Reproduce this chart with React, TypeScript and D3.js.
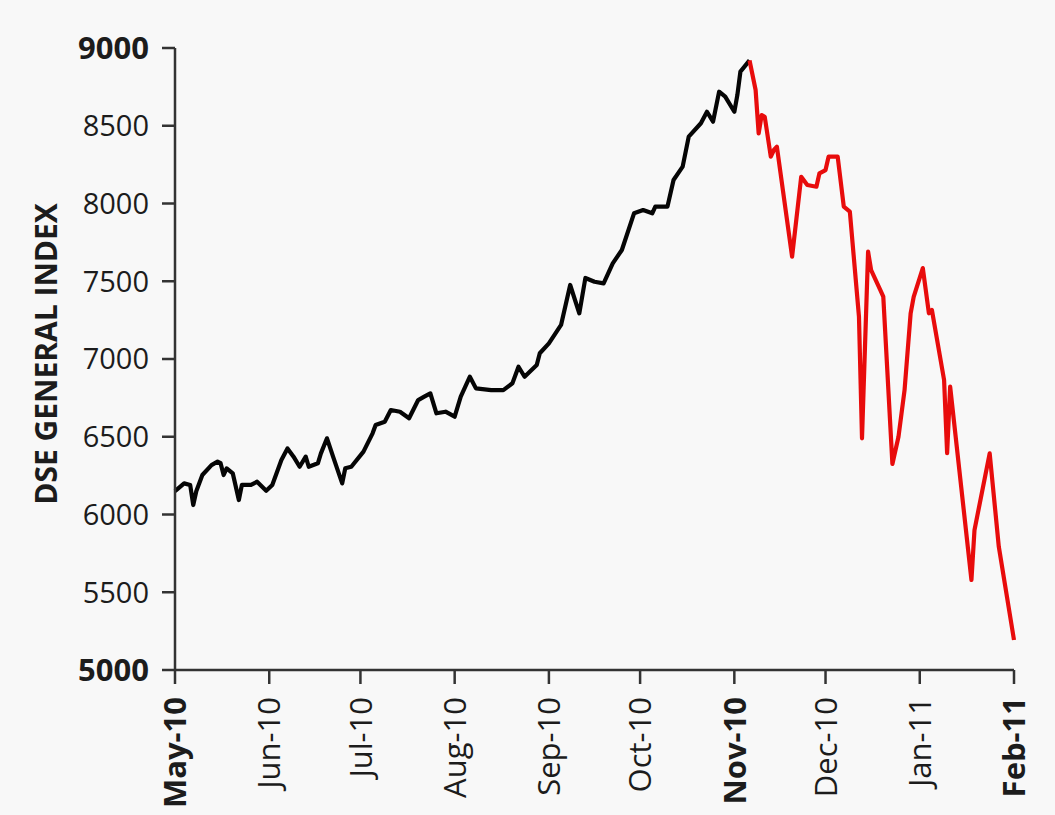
import React from "react";
import * as d3 from "d3";

const monthTicks = ["2010-05-01","2010-06-01","2010-07-01","2010-08-01","2010-09-01","2010-10-01","2010-11-01","2010-12-01","2011-01-01","2011-02-01"];
const monthLabels = ["May-10","Jun-10","Jul-10","Aug-10","Sep-10","Oct-10","Nov-10","Dec-10","Jan-11","Feb-11"];
const boldMonths = ["May-10","Nov-10","Feb-11"];
const yTicks = [5000,5500,6000,6500,7000,7500,8000,8500,9000];
const boldY = [5000,9000];

const riseDates = ["2010-05-01","2010-05-04","2010-05-06","2010-05-07","2010-05-08","2010-05-10","2010-05-13","2010-05-15","2010-05-16","2010-05-17","2010-05-18","2010-05-20","2010-05-22","2010-05-23","2010-05-26","2010-05-28","2010-05-31","2010-06-02","2010-06-05","2010-06-07","2010-06-09","2010-06-11","2010-06-13","2010-06-14","2010-06-17","2010-06-18","2010-06-20","2010-06-22","2010-06-25","2010-06-26","2010-06-28","2010-07-02","2010-07-05","2010-07-06","2010-07-09","2010-07-11","2010-07-14","2010-07-17","2010-07-20","2010-07-22","2010-07-24","2010-07-26","2010-07-29","2010-08-01","2010-08-03","2010-08-06","2010-08-08","2010-08-13","2010-08-17","2010-08-20","2010-08-22","2010-08-24","2010-08-28","2010-08-29","2010-09-01","2010-09-05","2010-09-08","2010-09-11","2010-09-13","2010-09-16","2010-09-19","2010-09-22","2010-09-25","2010-09-29","2010-10-02","2010-10-05","2010-10-06","2010-10-10","2010-10-12","2010-10-15","2010-10-17","2010-10-21","2010-10-23","2010-10-25","2010-10-27","2010-10-29","2010-11-01","2010-11-02","2010-11-03","2010-11-06"];
const riseValues = [6150,6200,6190,6061,6150,6254,6318,6340,6330,6254,6297,6265,6093,6190,6190,6211,6153,6190,6350,6425,6372,6307,6372,6307,6329,6393,6490,6372,6200,6297,6307,6404,6522,6575,6597,6672,6661,6619,6736,6758,6779,6651,6661,6629,6758,6886,6811,6800,6800,6844,6950,6886,6961,7037,7101,7219,7476,7294,7521,7497,7486,7615,7701,7937,7958,7937,7980,7980,8151,8237,8430,8516,8590,8526,8719,8687,8590,8698,8848,8920];

const fallDates = ["2010-11-06","2010-11-08","2010-11-09","2010-11-10","2010-11-11","2010-11-13","2010-11-14","2010-11-15","2010-11-20","2010-11-23","2010-11-25","2010-11-28","2010-11-29","2010-12-01","2010-12-02","2010-12-05","2010-12-07","2010-12-09","2010-12-12","2010-12-13","2010-12-15","2010-12-16","2010-12-19","2010-12-20","2010-12-23","2010-12-25","2010-12-27","2010-12-29","2010-12-30","2011-01-02","2011-01-04","2011-01-05","2011-01-09","2011-01-10","2011-01-11","2011-01-18","2011-01-19","2011-01-24","2011-01-27","2011-02-01"];
const fallValues = [8920,8730,8451,8569,8558,8301,8344,8365,7658,8172,8119,8108,8194,8215,8301,8301,7980,7948,7272,6490,7690,7572,7445,7401,6325,6500,6800,7294,7400,7585,7294,7315,6865,6395,6822,5579,5900,6393,5793,5193];

const W = 1055, H = 815;
const M = { left: 175, top: 48, right: 41, bottom: 145 };
const FONT = "'Open Sans', 'Noto Sans', sans-serif";
const TXT = "#1c1c1c";

export default function App() {
  const parse = d3.utcParse("%Y-%m-%d");
  const x = d3.scaleUtc()
    .domain([parse(monthTicks[0])!, parse(monthTicks[monthTicks.length - 1])!])
    .range([M.left, W - M.right]);
  const y = d3.scaleLinear().domain([5000, 9000]).range([H - M.bottom, M.top]);

  const rise = riseDates.map((d, i) => ({ d: parse(d)!, v: riseValues[i] }));
  const fall = fallDates.map((d, i) => ({ d: parse(d)!, v: fallValues[i] }));
  const line = d3.line<{ d: Date; v: number }>().x(p => x(p.d)).y(p => y(p.v));

  const x0 = M.left, y0 = H - M.bottom;

  return (
    <div style={{ position: "absolute", left: 0, top: 0 }}>
      <svg width={W} height={H} style={{ display: "block" }}>
        <rect x={0} y={0} width={W} height={H} fill="#f8f8f8" />
        <path d={line(rise) ?? ""} fill="none" stroke="#050505" strokeWidth={4.2} strokeLinejoin="round" />
        <path d={line(fall) ?? ""} fill="none" stroke="#e80c0c" strokeWidth={4.2} strokeLinejoin="round" />
        {/* y axis */}
        <line x1={x0} x2={x0} y1={y(9000)} y2={y0} stroke="#333" strokeWidth={2.5} />
        {yTicks.map(t => (
          <g key={t}>
            <line x1={x0 - 13} x2={x0} y1={y(t)} y2={y(t)} stroke="#333" strokeWidth={2.5} />
            <text x={x0 - 26} y={y(t)} dy="0.36em" textAnchor="end" fontFamily={FONT}
              fontSize={boldY.includes(t) ? 31 : 29} fontWeight={boldY.includes(t) ? 700 : 400} fill={TXT}>
              {t}
            </text>
          </g>
        ))}
        {/* x axis */}
        <line x1={x0} x2={W - M.right} y1={y0} y2={y0} stroke="#333" strokeWidth={2.5} />
        {monthTicks.map((m, i) => {
          const px = x(parse(m)!);
          const b = boldMonths.includes(monthLabels[i]);
          return (
            <g key={m}>
              <line x1={px} x2={px} y1={y0} y2={y0 + 14} stroke="#333" strokeWidth={2.5} />
              <text transform={`translate(${px},${y0 + 27}) rotate(-90)`} dy="0.36em" textAnchor="end"
                fontFamily={FONT} fontSize={31} fontWeight={b ? 700 : 400} fill={TXT}>
                {monthLabels[i]}
              </text>
            </g>
          );
        })}
        <text transform={`translate(57,${(y(9000) + y0) / 2 - 5}) rotate(-90)`} textAnchor="middle"
          fontFamily={FONT} fontSize={30} fontWeight={700} fill={TXT}>
          DSE GENERAL INDEX
        </text>
      </svg>
    </div>
  );
}
